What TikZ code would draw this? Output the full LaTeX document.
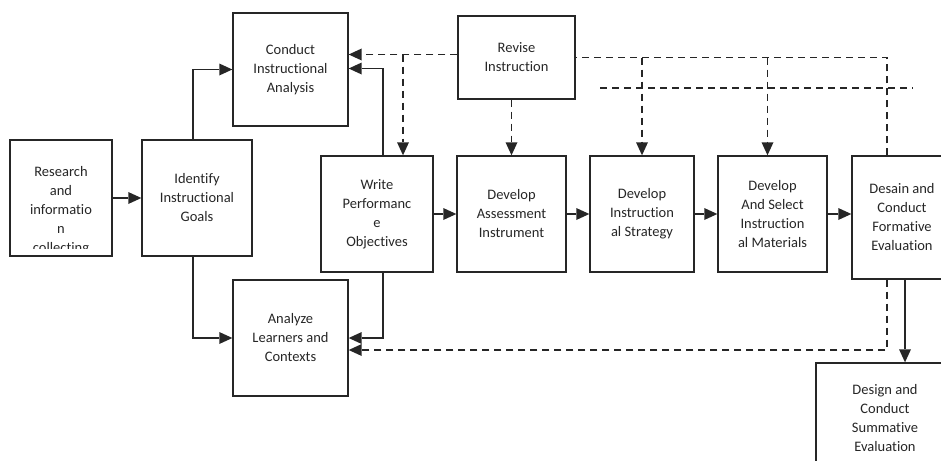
\documentclass[tikz,border=0pt]{standalone}
\usepackage{fontspec}
\setmainfont{Carlito}[Ligatures=NoCommon]
\usetikzlibrary{arrows.meta}

\begin{document}
\begin{tikzpicture}[x=1pt, y=-1pt,
  box/.style={draw=black!85, line width=1.4pt, align=center, text=black!85, font=\fontsize{14.5}{19}\selectfont, inner sep=2pt},
  flow/.style={-{Triangle[length=13pt,width=12pt,line width=0pt]}, line width=1.4pt, black!85},
  dflow/.style={flow, dash pattern=on 7pt off 5pt},
  dline/.style={line width=1.4pt, black!85, dash pattern=on 7pt off 5pt}]
\useasboundingbox (0,0) rectangle (941,460);
\clip (0,0) rectangle (941,460);

% Boxes - first column
\node[box, minimum width=102, minimum height=116] (research) at (61,198) {};
\begin{scope}
  \clip (12,142) rectangle (110,248);
  \node[align=center, text=black!85, font=\fontsize{14.5}{19}\selectfont] (researchtext) at (61,211) {Research\\and\\informatio\\n\\collecting};
\end{scope}
\node[box, minimum width=110, minimum height=116] (identify) at (197,198) {Identify\\Instructional\\Goals};
\node[box, minimum width=115, minimum height=113] (conduct) at (290.5,69.5) {Conduct\\Instructional\\Analysis};
\node[box, minimum width=115, minimum height=116] (analyze) at (290.5,338) {Analyze\\Learners and\\Contexts};

% Boxes - main row
\node[box, minimum width=112, minimum height=116] (write) at (377,214) {Write\\Performanc\\e\\Objectives};
\node[box, minimum width=109, minimum height=116] (assessment) at (511.5,214) {Develop\\Assessment\\Instrument};
\node[box, minimum width=104, minimum height=116] (strategy) at (642,214) {Develop\\Instruction\\al Strategy};
\node[box, minimum width=109, minimum height=116] (materials) at (772.5,214) {Develop\\And Select\\Instruction\\al Materials};
\node[box, minimum width=100, minimum height=123] (formative) at (902,217.5) {Desain and\\Conduct\\Formative\\Evaluation};

% Revision and summative evaluation
\node[box, minimum width=117, minimum height=83] (revise) at (516.5,57.5) {Revise\\Instruction};
\node[box, minimum width=138, minimum height=110] (summative) at (885,418) {Design and\\Conduct\\Summative\\Evaluation};

% Solid arrows
\draw[flow] (research) -- (identify);
\draw[flow] ([xshift=-4pt]identify.north) |- (conduct.west);
\draw[flow] ([xshift=-4pt]identify.south) |- (analyze.west);
\draw[flow] ([xshift=6pt]write.north) |- ([yshift=1pt]conduct.east);
\draw[flow] ([xshift=6pt]write.south) |- (analyze.east);
\draw[flow] (write) -- (assessment);
\draw[flow] (assessment) -- (strategy);
\draw[flow] (strategy) -- (materials);
\draw[flow] (materials.east) -- (materials.east -| formative.west);
\draw[flow] ([xshift=3pt]formative.south) -- ([xshift=3pt]formative.south |- summative.north);

% Dashed revision lines
\coordinate (jl) at ([yshift=3pt]revise.west);
\draw[dline] ([xshift=-15pt]formative.north) |- (revise.east);
\draw[dflow] (jl) -- (jl -| conduct.east);
\draw[dflow] ([xshift=26pt]write.north |- jl) -- ([xshift=26pt]write.north);
\draw[dflow] (assessment.north |- revise.south) -- (assessment.north);
\draw[dflow] (strategy.north |- revise.east) -- (strategy.north);
\draw[dflow] ([xshift=-5pt]materials.north |- revise.east) -- ([xshift=-5pt]materials.north);
\draw[dline] (600,88) -- (913,88);
\draw[dflow] ([xshift=-15pt]formative.south) |- ([yshift=-12pt]analyze.east);
\end{tikzpicture}
\end{document}
